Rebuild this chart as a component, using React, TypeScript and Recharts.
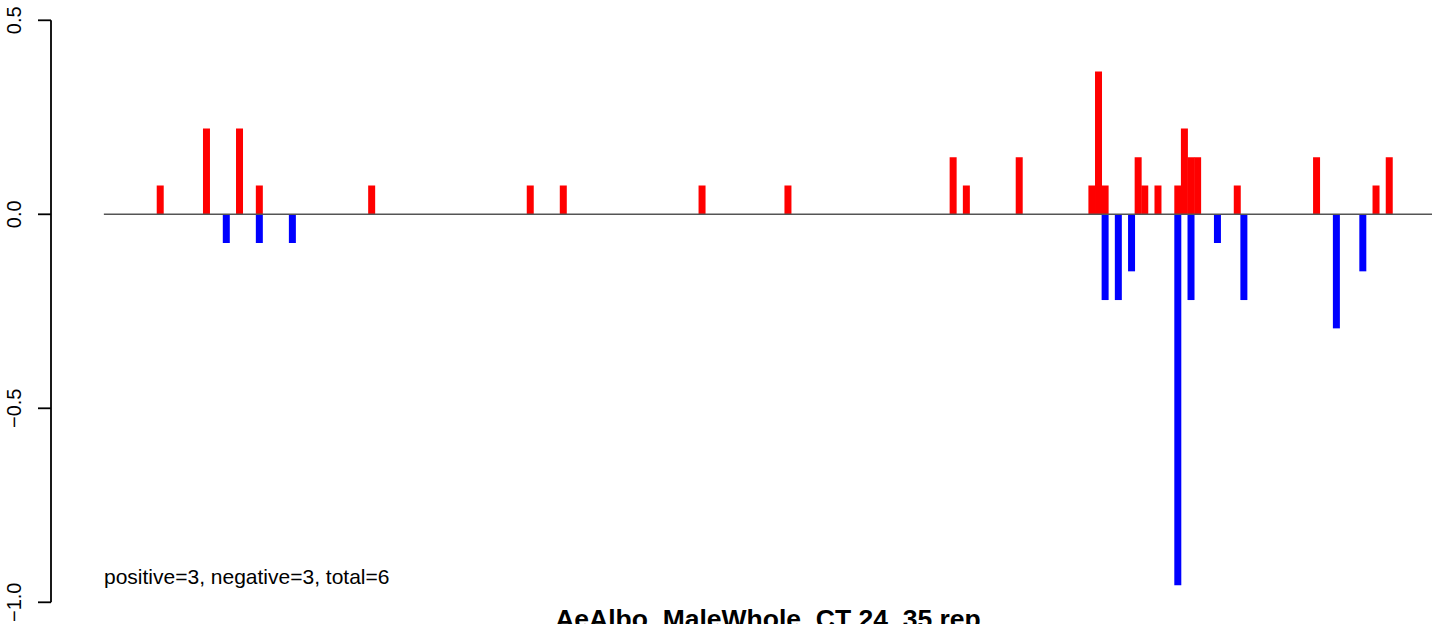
import React from "react";
import { Bar, BarChart, ReferenceLine, XAxis, YAxis } from "recharts";

// 201 slots along the x axis, most of them empty (0)
const CATEGORY_COUNT = 201;

const redIndex = [8, 15, 20, 23, 40, 64, 69, 90, 103, 128, 130, 138, 149, 150, 151, 156, 157, 159, 162, 163, 164, 165, 171, 183, 192, 194];
const redValue = [0.074, 0.221, 0.221, 0.074, 0.074, 0.074, 0.074, 0.074, 0.074, 0.147, 0.074, 0.147, 0.074, 0.368, 0.074, 0.147, 0.074, 0.074, 0.074, 0.221, 0.147, 0.147, 0.074, 0.147, 0.074, 0.147];

const blueIndex = [18, 23, 28, 151, 153, 155, 162, 164, 168, 172, 186, 190];
const blueValue = [-0.074, -0.074, -0.074, -0.221, -0.221, -0.147, -0.956, -0.221, -0.074, -0.221, -0.294, -0.147];

const yTicks = [-1, -0.5, 0, 0.5];
const yTickLabels = ["\u22121.0", "\u22120.5", "0.0", "0.5"];

const TITLE = "AeAlbo_MaleWhole_CT 24_35 rep";
const SUMMARY = "positive=3, negative=3, total=6";

const FONT = "'Liberation Sans', Arial, Helvetica, sans-serif";

type Row = { x: number; pos: number; neg: number };

const data: Row[] = Array.from({ length: CATEGORY_COUNT }, (_, i) => ({ x: i + 0.5, pos: 0, neg: 0 }));
redIndex.forEach((idx, k) => {
  data[idx].pos = redValue[k];
});
blueIndex.forEach((idx, k) => {
  data[idx].neg = blueValue[k];
});

function YTick(props: any) {
  const { y, payload } = props;
  const i = yTicks.indexOf(payload.value);
  const label = i >= 0 ? yTickLabels[i] : String(payload.value);
  const tx = 21;
  return (
    <text
      x={tx}
      y={y}
      transform={`rotate(-90 ${tx} ${y})`}
      textAnchor="middle"
      fontSize={20}
      fontFamily={FONT}
      fill="#000"
    >
      {label}
    </text>
  );
}

export default function App() {
  return (
    <div style={{ position: "absolute", left: 0, top: 0, width: 1452, height: 624, background: "#fff" }}>
      <BarChart
        width={1452}
        height={624}
        data={data}
        margin={{ top: 20.3, right: 20, bottom: 21.7, left: 0 }}
        barCategoryGap={0}
        barGap={0}
        stackOffset="sign"
      >
        <XAxis type="number" dataKey="x" domain={[-8, 201]} hide allowDataOverflow />
        <YAxis
          type="number"
          domain={[-1, 0.5]}
          ticks={yTicks}
          interval={0}
          width={51}
          tickSize={13}
          axisLine={{ stroke: "#000", strokeWidth: 1.8 }}
          tickLine={{ stroke: "#000", strokeWidth: 1.8 }}
          tick={<YTick />}
          allowDataOverflow
        />
        <ReferenceLine
          segment={[
            { x: 0, y: 0 },
            { x: 201, y: 0 },
          ]}
          stroke="#555"
          strokeWidth={1.4}
        />
        <Bar dataKey="pos" stackId="s" fill="#FF0000" isAnimationActive={false} />
        <Bar dataKey="neg" stackId="s" fill="#0000FF" isAnimationActive={false} />
      </BarChart>
      <svg
        width={1452}
        height={624}
        style={{ position: "absolute", left: 0, top: 0, pointerEvents: "none" }}
      >
        <text x={104} y={584} fontSize={21} fontFamily={FONT} fill="#000">
          {SUMMARY}
        </text>
        <text x={768} y={628} fontSize={26.5} fontWeight="bold" fontFamily={FONT} textAnchor="middle" fill="#000">
          {TITLE}
        </text>
      </svg>
    </div>
  );
}
